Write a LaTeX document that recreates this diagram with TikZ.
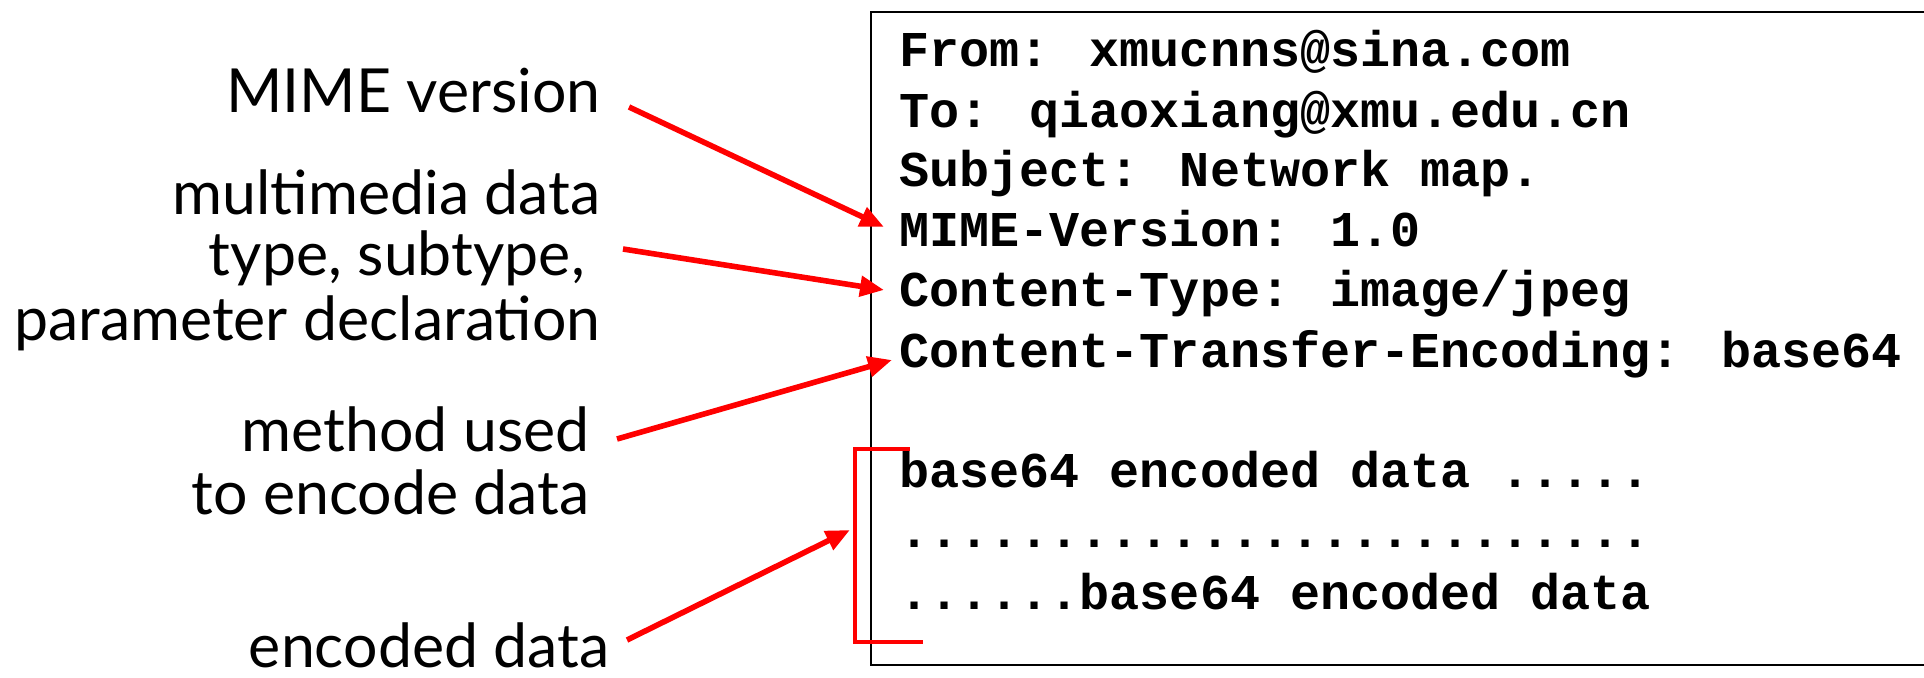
\documentclass[tikz,border=0pt]{standalone}
\usepackage{fontspec}
\newfontfamily\labfont{Lato}
\newfontfamily\monofont{Liberation Mono}
\usetikzlibrary{arrows.meta}
\begin{document}
\begin{tikzpicture}[x=0.5pt,y=-0.5pt,
  lab/.style={font=\labfont\fontsize{30.4}{32}\selectfont, inner sep=0pt, anchor=base east},
  mono/.style={font=\monofont\bfseries\fontsize{25.05}{30}\selectfont, inner sep=0pt, anchor=base west},
  arr/.style={red, line width=2.8pt, -{Triangle[length=12pt,width=10pt]}},
  brk/.style={red, line width=2pt},
  frame/.style={black, line width=1.4pt}]
\useasboundingbox (0,0) rectangle (1924,678);
% message box
\draw[frame] (1935,12) -- (871,12) -- (871,665) -- (1935,665);
% message lines
\node[mono] (l1) at (899,67) {From: xmucnns@sina.com};
\node[mono] (l2) at (899,128) {To: qiaoxiang@xmu.edu.cn};
\node[mono] (l3) at (899,187) {Subject: Network map.};
\node[mono] (l4) at (899,247) {MIME-Version: 1.0};
\node[mono] (l5) at (899,307) {Content-Type: image/jpeg};
\node[mono] (l6) at (899,368) {Content-Transfer-Encoding: base64};
\node[mono] (l7) at (899,488) {base64 encoded data .....};
\node[mono] (l8) at (899,548) {.........................};
\node[mono] (l9) at (899,610) {......base64 encoded data};
% labels
\node[lab] (mv) at (601,113) {MIME version};
\node[lab] (md1) at (601,215) {multimedia data};
\node[lab] (md2) at (585,276) {type, subtype,};
\node[lab] (md3) at (601,341) {parameter declaration};
\node[lab] (mu1) at (590,452) {method used};
\node[lab] (mu2) at (590,515) {to encode data};
\node[lab] (ed) at (610,668) {encoded data};
% arrow endpoints
\coordinate (a1s) at (629,107);
\coordinate (a1e) at (884,227);
\coordinate (a2s) at (623,249);
\coordinate (a2e) at (884,290);
\coordinate (a3s) at (617,439);
\coordinate (a3e) at (892,360);
\coordinate (a4s) at (627,640);
\coordinate (a4e) at (850,530);
\draw[arr] (a1s) -- (a1e);
\draw[arr] (a2s) -- (a2e);
\draw[arr] (a3s) -- (a3e);
\draw[arr] (a4s) -- (a4e);
% bracket
\coordinate (bt) at (910,449);
\coordinate (bb) at (923,642);
\draw[brk] (bt) -- (855,449) -- (855,642) -- (bb);
\end{tikzpicture}
\end{document}
